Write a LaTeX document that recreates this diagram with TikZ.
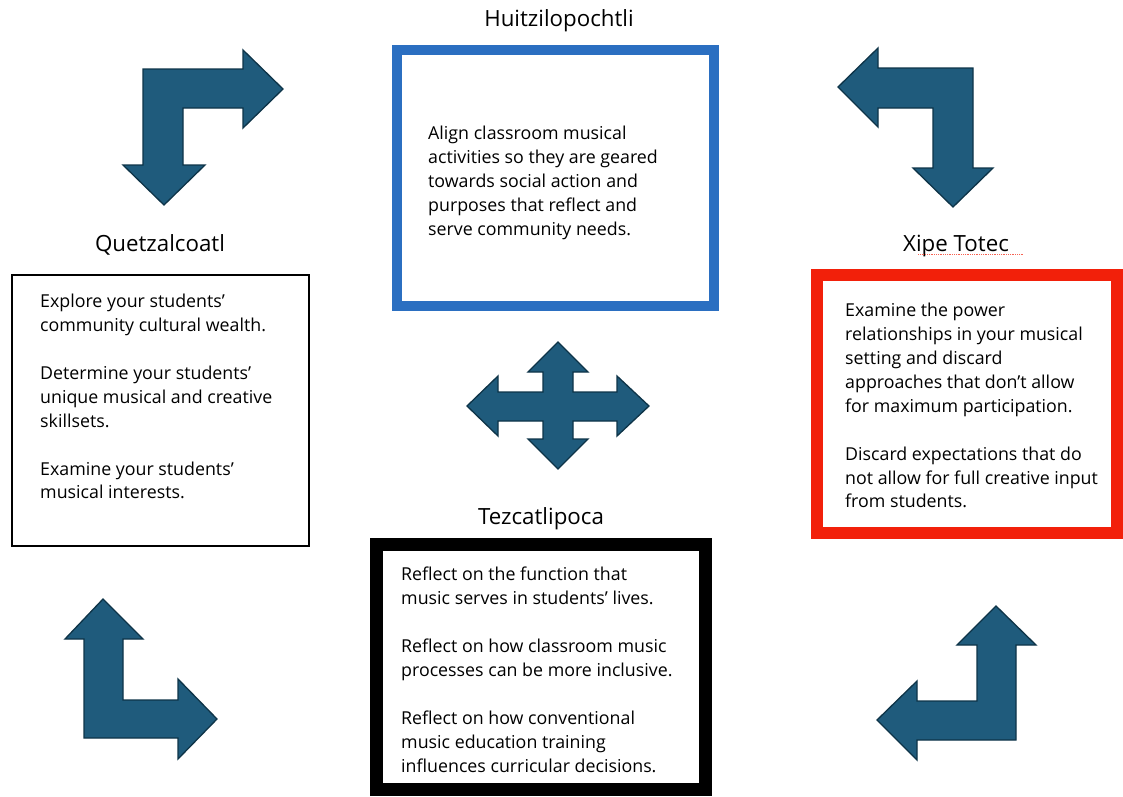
\documentclass[tikz,border=0pt]{standalone}
\usepackage{fontspec}
\setmainfont{Open Sans}
\definecolor{arrowfill}{HTML}{1F5B7C}
\definecolor{arrowedge}{HTML}{0E3448}
\definecolor{boxblue}{HTML}{2B6FC1}
\definecolor{boxred}{HTML}{F2200A}
\begin{document}
\begin{tikzpicture}[x=1pt,y=-1pt,
  bentarrow/.style={fill=arrowfill,draw=arrowedge,line width=1.3pt,line join=miter},
  title/.style={font=\fontsize{22.3}{26}\selectfont,inner sep=0pt},
  body/.style={font=\fontsize{17.8}{23.9}\selectfont,align=left,anchor=north west,inner sep=0pt}]
\useasboundingbox (0,0) rectangle (1123,796);

% titles
\node[title] (thuitz) at (559,20.5) {Huitzilopochtli};
\node[title] (tquetz) at (160,245) {Quetzalcoatl};
\node[title] (txipe) at (956,245.5) {Xipe Totec};
\node[title] (ttezc) at (541,519) {Tezcatlipoca};
\draw[boxred!70,densely dotted,line width=0.8pt] (918,254) -- (1023,254);

% boxes
\draw[boxblue,line width=10pt] (397,50) rectangle (714,306);
\draw[black,line width=1.8pt] (12,275) rectangle (309,546);
\draw[boxred,line width=12pt] (817,275) rectangle (1117,533);
\draw[black,line width=13pt] (376.5,544.5) rectangle (705.5,789);
\draw[black,line width=0.5pt,double distance=1.2pt] (387,554) rectangle (697,776);

% texts
\node[body] (tblue) at (428,126) {Align classroom musical\\activities so they are geared\\towards social action and\\purposes that reflect and\\serve community needs.};
\node[body] (tleft) at (40,294) {Explore your students’\\community cultural wealth.\\[23.9pt]Determine your students’\\unique musical and creative\\skillsets.\\[23.9pt]Examine your students’\\musical interests.};
\node[body] (tred) at (845,303) {Examine the power\\relationships in your musical\\setting and discard\\approaches that don’t allow\\for maximum participation.\\[23.9pt]Discard expectations that do\\not allow for full creative input\\from students.};
\node[body] (tblack) at (401,567) {Reflect on the function that\\music serves in students’ lives.\\[23.9pt]Reflect on how classroom music\\processes can be more inclusive.\\[23.9pt]Reflect on how conventional\\music education training\\influences curricular decisions.};

% bent arrows
\draw[bentarrow] (143,69) -- (243,69) -- (243,50) -- (283,89) -- (243,128) -- (243,108) -- (183,108) -- (183,165) -- (205,165) -- (164,205) -- (123,165) -- (143,165) -- cycle;
\draw[bentarrow] (838,87) -- (878,48) -- (878,68) -- (973,68) -- (973,168) -- (993,168) -- (953,207) -- (913,168) -- (933,168) -- (933,108) -- (878,108) -- (878,127) -- cycle;
\draw[bentarrow] (103,599) -- (143,639) -- (123,639) -- (123,700) -- (178,700) -- (178,679) -- (217,719) -- (178,759) -- (178,738) -- (84,738) -- (84,639) -- (65,639) -- cycle;
\draw[bentarrow] (996,606) -- (1036,645) -- (1016,645) -- (1016,740) -- (917,740) -- (917,760) -- (877,720) -- (917,681) -- (917,701) -- (977,701) -- (977,645) -- (957,645) -- cycle;
% four-way arrow
\draw[bentarrow] (558,342) -- (588,372) -- (573,372) -- (573,392) -- (617,392) -- (617,376) -- (649,406) -- (617,436) -- (617,421) -- (573,421) -- (573,439) -- (588,439) -- (558,469) -- (528,439) -- (543,439) -- (543,421) -- (498,421) -- (498,436) -- (467,406) -- (498,376) -- (498,392) -- (543,392) -- (543,372) -- (528,372) -- cycle;
\end{tikzpicture}
\end{document}
